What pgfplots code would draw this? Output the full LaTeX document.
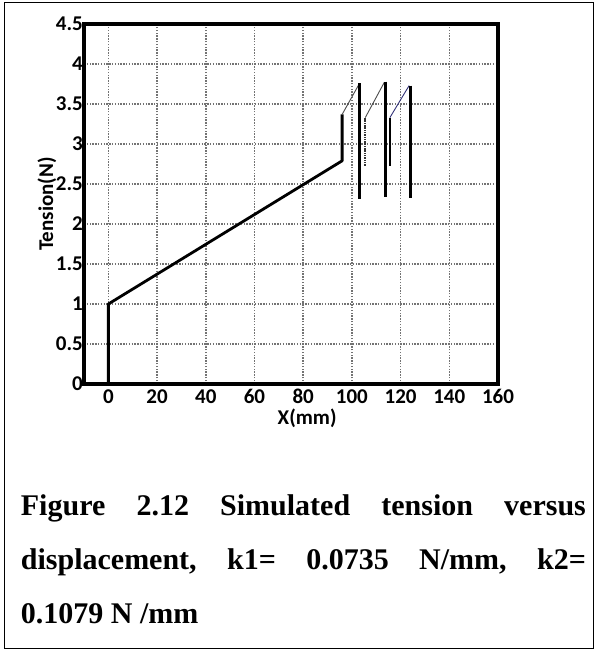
\documentclass[border=0pt]{standalone}
\usepackage{fontspec}
\setmainfont{Liberation Serif}
\newfontfamily\carlito{Carlito}
\usepackage{pgfplots}
\pgfplotsset{compat=1.18}
\begin{document}
\begin{tikzpicture}
\useasboundingbox (0pt,0pt) rectangle (595pt,-650pt);
\draw[line width=1.8pt] (4.5pt,-2.5pt) rectangle (593.5pt,-648.5pt);
\begin{axis}[
  at={(84pt,-384pt)}, anchor=south west,
  scale only axis, width=414pt, height=360pt,
  xmin=-10, xmax=160, ymin=0, ymax=4.5,
  xtick={0,20,...,160}, ytick={0,0.5,...,4.5},
  grid=major,
  grid style={dash pattern=on 1.4pt off 1.4pt, line width=1.5pt, black!55},
  axis line style={line width=3.2pt},
  major tick length=0pt,
  /pgf/number format/assume math mode=true,
  /pgf/number format/fixed,
  ticklabel style={font=\carlito\bfseries\fontsize{21}{21}\selectfont},
  yticklabel style={anchor=east, inner sep=0pt, xshift=-1pt},
  xticklabel style={anchor=base, inner sep=0pt, yshift=-19pt},
  xlabel={X(mm)},
  ylabel={Tension(N)},
  xlabel style={font=\carlito\bfseries\fontsize{21}{21}\selectfont, at={(axis description cs:0.539,0)}, anchor=center, yshift=-34pt},
  ylabel style={font=\carlito\bfseries\fontsize{21}{21}\selectfont, at={(axis description cs:-0.0894,0.5)}, anchor=center},
  clip=false,
]
% main rise
\addplot[line width=2.8pt, black, line join=round] coordinates {(0,0) (0,1) (96,2.79) (96,3.37)};
% thin ramps
\addplot[line width=0.9pt, black!70] coordinates {(96,3.37) (102.8,3.74)};
\addplot[line width=0.9pt, black!70] coordinates {(105.5,3.33) (113.3,3.77)};
\addplot[line width=0.9pt, black!55!blue!60!gray] coordinates {(115.6,3.33) (123.5,3.73)};
% thick drops
\addplot[line width=3pt, black] coordinates {(103.2,3.76) (103.2,2.31)};
\addplot[line width=3pt, black] coordinates {(113.8,3.78) (113.8,2.34)};
\addplot[line width=3pt, black] coordinates {(123.9,3.73) (123.9,2.33)};
% intermediate verticals
\addplot[line width=2pt, black!80, dash pattern=on 1.5pt off 0.8pt] coordinates {(105.5,2.73) (105.5,3.33)};
\addplot[line width=2pt, black] coordinates {(115.6,2.73) (115.6,3.33)};
\end{axis}
\begin{scope}[every node/.style={inner sep=0pt, anchor=base west, font=\bfseries\fontsize{30}{30}\selectfont}]
\node at (20.7pt,-515pt) {\hbox to 565pt{Figure\hfill 2.12\hfill Simulated\hfill tension\hfill versus}};
\node at (20.7pt,-569pt) {\hbox to 565pt{displacement,\hfill k1=\hfill 0.0735\hfill N/mm,\hfill k2=}};
\node at (20.7pt,-623pt) {0.1079 N /mm};
\end{scope}
\end{tikzpicture}
\end{document}
